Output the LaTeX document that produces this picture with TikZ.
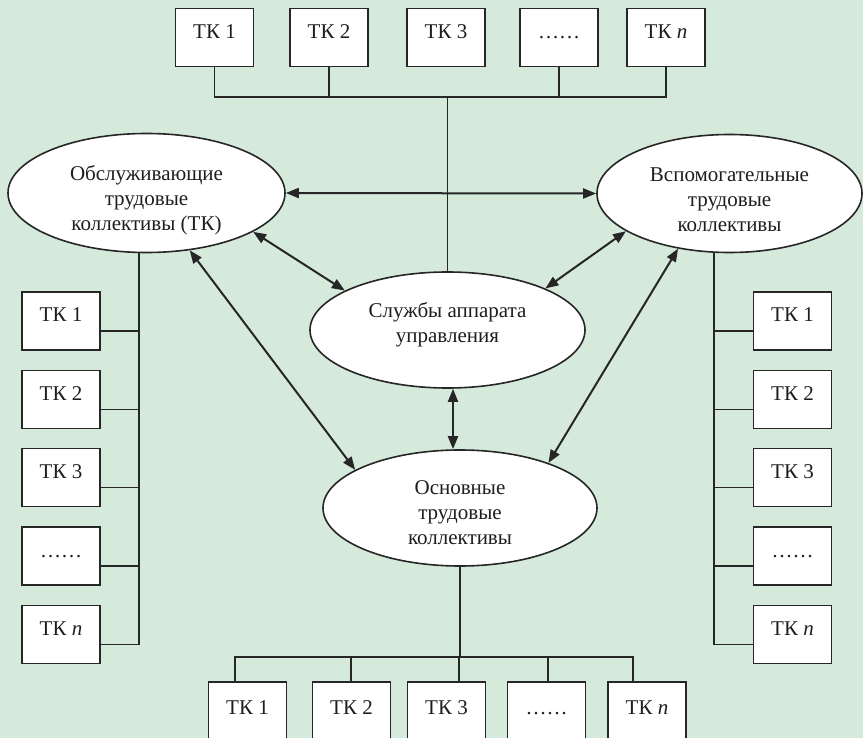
\documentclass[tikz,border=0pt]{standalone}
\usepackage{fontspec}
\setmainfont{Liberation Serif}
\usetikzlibrary{shapes.geometric,arrows.meta}
\definecolor{bgcol}{RGB}{214,234,220}
\definecolor{linec}{RGB}{38,38,38}
\definecolor{txtc}{RGB}{30,30,30}
\newcommand{\upstrut}[1]{\rule{0pt}{#1}}
\newcommand{\dnstrut}[1]{\rule[-#1]{0pt}{1pt}}
\tikzset{
  txt/.style={font=\fontsize{21}{25}\selectfont, text=txtc},
  tk/.style={txt, draw=linec, line width=1.8pt, fill=white, minimum width=78pt, minimum height=58pt, inner sep=0pt, text height=14pt, text depth=12pt},
  tkb/.style={tk, minimum height=64pt, anchor=north},
  ell/.style={txt, ellipse, draw=linec, line width=1.6pt, fill=white, inner sep=0pt, align=center},
  conn/.style={draw=linec, line width=1.8pt},
  arr/.style={draw=linec, line width=2pt, >={Triangle[length=13pt,width=10pt]}, <->}
}
\begin{document}
\begin{tikzpicture}[x=1pt,y=-1pt]
\useasboundingbox (0,0) rectangle (863,738);
\fill[bgcol] (0,0) rectangle (863,738);

% ellipses
\node[ell, minimum width=277pt, minimum height=119pt] (L) at (146.5,193) {\upstrut{29pt}Обслуживающие\\трудовые\\коллективы (ТК)};
\node[ell, minimum width=265pt, minimum height=118pt] (R) at (729.5,193.5) {\upstrut{26pt}Вспомогательные\\трудовые\\коллективы};
\node[ell, minimum width=275pt, minimum height=116pt] (C) at (447.5,330) {Службы аппарата\\управления\dnstrut{15pt}};
\node[ell, minimum width=274pt, minimum height=116pt] (B) at (460,508) {\upstrut{24pt}Основные\\трудовые\\коллективы};

% top row
\node[tk] (t1) at (214.5,37.5) {ТК 1};
\node[tk] (t2) at (329,37.5) {ТК 2};
\node[tk] (t3) at (446,37.5) {ТК 3};
\node[tk] (t4) at (559,37.5) {……};
\node[tk] (t5) at (666,37.5) {ТК \textit{n}};
\coordinate (tbus) at (0,97);
\draw[conn] (t1.south) -- (t1.south |- tbus) -- (t5.south |- tbus) -- (t5.south);
\draw[conn] (t2.south) -- (t2.south |- tbus);
\draw[conn] (t4.south) -- (t4.south |- tbus);
\draw[conn] (C.north) -- (C.north |- tbus);

% left column
\node[tk] (l1) at (61,321) {ТК 1};
\node[tk] (l2) at (61,399.5) {ТК 2};
\node[tk] (l3) at (61,477.5) {ТК 3};
\node[tk] (l4) at (61,556) {……};
\node[tk] (l5) at (61,634.5) {ТК \textit{n}};
\coordinate (lv) at (139,0);
\foreach \i in {1,...,5} {
  \path ([yshift=-10pt]l\i.east) coordinate (ls\i);
  \draw[conn] (ls\i) -- (ls\i -| lv);
}
\draw[conn] (L.south -| lv) -- (ls5 -| lv);

% right column
\node[tk] (r1) at (792.5,321) {ТК 1};
\node[tk] (r2) at (792.5,399.5) {ТК 2};
\node[tk] (r3) at (792.5,477.5) {ТК 3};
\node[tk] (r4) at (792.5,556) {……};
\node[tk] (r5) at (792.5,634.5) {ТК \textit{n}};
\coordinate (rv) at (714,0);
\foreach \i in {1,...,5} {
  \path ([yshift=-10pt]r\i.west) coordinate (rs\i);
  \draw[conn] (rs\i) -- (rs\i -| rv);
}
\draw[conn] (R.south -| rv) -- (rs5 -| rv);

% bottom row
\node[tkb] (b1) at (247.5,681) {ТК 1};
\node[tkb] (b2) at (351.5,681) {ТК 2};
\node[tkb] (b3) at (446.5,681) {ТК 3};
\node[tkb] (b4) at (546.5,681) {……};
\node[tkb] (b5) at (647,681) {ТК \textit{n}};
\coordinate (bbus) at (0,657);
\path ([xshift=-12.5pt]b1.north) coordinate (bs1)
      ([xshift=-0.5pt]b2.north) coordinate (bs2)
      ([xshift=12.5pt]b3.north) coordinate (bs3)
      ([xshift=1.5pt]b4.north) coordinate (bs4)
      ([xshift=-14pt]b5.north) coordinate (bs5);
\draw[conn] (bs1) -- (bs1 |- bbus) -- (bs5 |- bbus) -- (bs5);
\foreach \i in {2,3,4} { \draw[conn] (bs\i) -- (bs\i |- bbus); }
\draw[conn] (B.south) -- (B.south |- bbus);

% arrows
\draw[arr] (L.east) -- (R.west);
\draw[arr] (L.-20) -- (C.159.5);
\draw[arr] (L.-53) -- (B.160);
\draw[arr] (R.200) -- (C.23);
\draw[arr] (R.227.5) -- (B.27);
\draw[arr] ([xshift=5.5pt]C.south) -- ([xshift=-7pt]B.north);
\end{tikzpicture}
\end{document}
